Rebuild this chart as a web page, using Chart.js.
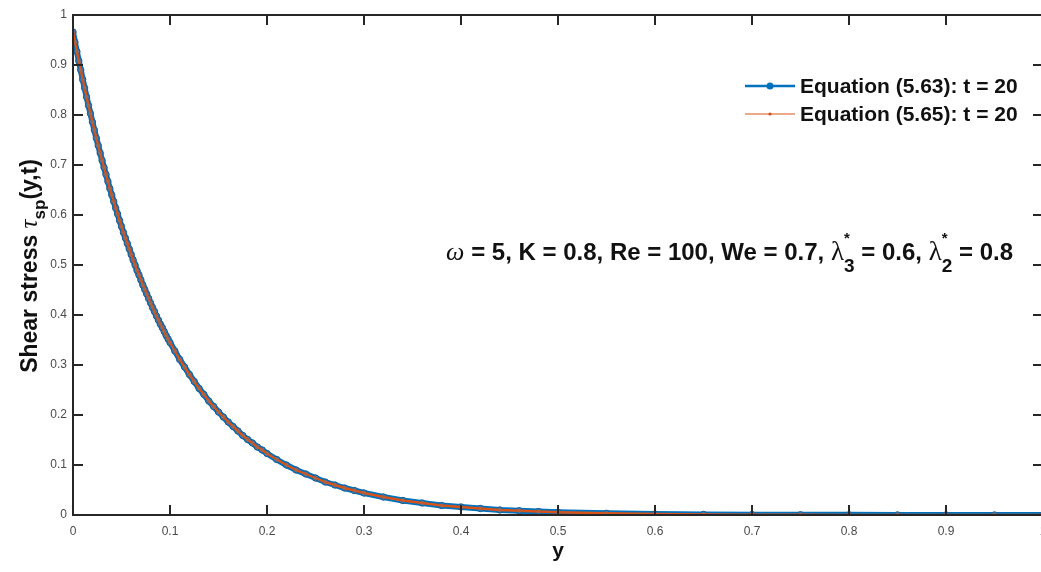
<!DOCTYPE html>
<html>
<head>
<meta charset="utf-8">
<script src="https://cdn.jsdelivr.net/npm/chart.js@4.4.1/dist/chart.umd.min.js"></script>
<style>
  html, body { margin: 0; padding: 0; background: #fff; overflow: hidden; }
  #wrap { position: relative; width: 1060px; height: 572px; }
</style>
</head>
<body>
<div id="wrap"><canvas id="stressChart"></canvas></div>
<script>
// positions across the channel (x axis, labelled "y")
const positions = [
  0, 0.002, 0.004, 0.006, 0.008, 0.010, 0.012, 0.014, 0.016, 0.018,
  0.020, 0.022, 0.024, 0.026, 0.028, 0.030, 0.032, 0.034, 0.036, 0.038,
  0.040, 0.042, 0.044, 0.046, 0.048, 0.050, 0.052, 0.054, 0.056, 0.058,
  0.060, 0.062, 0.064, 0.066, 0.068, 0.070, 0.072, 0.074, 0.076, 0.078,
  0.080, 0.082, 0.084, 0.086, 0.088, 0.090, 0.092, 0.094, 0.096, 0.098,
  0.100,
  0.105, 0.110, 0.115, 0.120, 0.125, 0.130, 0.135, 0.140, 0.145, 0.150,
  0.155, 0.160, 0.165, 0.170, 0.175, 0.180, 0.185, 0.190, 0.195, 0.200,
  0.21, 0.22, 0.23, 0.24, 0.25, 0.26, 0.27, 0.28, 0.29, 0.30,
  0.32, 0.34, 0.36, 0.38, 0.40, 0.42, 0.44, 0.46, 0.48, 0.50,
  0.55, 0.60, 0.65, 0.70, 0.75, 0.80, 0.85, 0.90, 0.95, 1.00
];

// Equation (5.63), t = 20
const tauEq563 = [
  0.966, 0.946, 0.927, 0.908, 0.890, 0.871, 0.854, 0.836, 0.819, 0.803,
  0.786, 0.770, 0.754, 0.739, 0.724, 0.709, 0.695, 0.681, 0.667, 0.653,
  0.640, 0.627, 0.614, 0.602, 0.589, 0.577, 0.565, 0.554, 0.543, 0.532,
  0.521, 0.510, 0.500, 0.489, 0.480, 0.470, 0.460, 0.451, 0.442, 0.433,
  0.424, 0.415, 0.407, 0.398, 0.390, 0.382, 0.375, 0.367, 0.359, 0.352,
  0.345,
  0.328, 0.311, 0.296, 0.281, 0.267, 0.253, 0.241, 0.228, 0.217, 0.206,
  0.196, 0.186, 0.177, 0.168, 0.159, 0.151, 0.144, 0.136, 0.130, 0.123,
  0.111, 0.100, 0.090, 0.082, 0.074, 0.066, 0.060, 0.054, 0.049, 0.044,
  0.036, 0.029, 0.024, 0.019, 0.016, 0.013, 0.010, 0.0085, 0.0069, 0.0056,
  0.0034, 0.0020, 0.0012, 0.0007, 0.0004, 0.0003, 0.0002, 0.0001, 0.0001, 0.0000
];

// Equation (5.65), t = 20
const tauEq565 = [
  0.966, 0.946, 0.927, 0.908, 0.890, 0.871, 0.854, 0.836, 0.819, 0.803,
  0.786, 0.770, 0.754, 0.739, 0.724, 0.709, 0.695, 0.681, 0.667, 0.653,
  0.640, 0.627, 0.614, 0.602, 0.589, 0.577, 0.565, 0.554, 0.543, 0.532,
  0.521, 0.510, 0.500, 0.489, 0.480, 0.470, 0.460, 0.451, 0.442, 0.433,
  0.424, 0.415, 0.407, 0.398, 0.390, 0.382, 0.375, 0.367, 0.359, 0.352,
  0.345,
  0.328, 0.311, 0.296, 0.281, 0.267, 0.253, 0.241, 0.228, 0.217, 0.206,
  0.196, 0.186, 0.177, 0.168, 0.159, 0.151, 0.144, 0.136, 0.130, 0.123,
  0.111, 0.100, 0.090, 0.082, 0.074, 0.066, 0.060, 0.054, 0.049, 0.044,
  0.036, 0.029, 0.024, 0.019, 0.016, 0.013, 0.010, 0.0085, 0.0069, 0.0056,
  0.0034, 0.0020, 0.0012, 0.0007, 0.0004, 0.0003, 0.0002, 0.0001, 0.0001, 0.0000
];

const tickValues = [0, 0.1, 0.2, 0.3, 0.4, 0.5, 0.6, 0.7, 0.8, 0.9, 1];
const legendLabels = ['Equation (5.63): t = 20', 'Equation (5.65): t = 20'];

const BLUE = '#0072BD';
const ORANGE = '#D95319';
const AXIS = '#262626';
const SANS = '"Liberation Sans", Arial, Helvetica, sans-serif';
const SERIF = '"Liberation Serif", "DejaVu Serif", serif';

// draws a run of text pieces with their own fonts; returns end x
function drawRuns(ctx, runs, x, y, measureOnly) {
  let cx = x;
  runs.forEach(r => {
    if (r.stack) {
      // subscript + superscript at same x
      let w = 0;
      r.stack.forEach(s => {
        ctx.font = s.font;
        if (!measureOnly) ctx.fillText(s.text, cx, y + s.dy);
        w = Math.max(w, ctx.measureText(s.text).width);
      });
      cx += w;
    } else {
      ctx.font = r.font;
      if (!measureOnly) ctx.fillText(r.text, cx, y + (r.dy || 0));
      cx += ctx.measureText(r.text).width;
    }
  });
  return cx;
}

const matlabFrame = {
  id: 'matlabFrame',
  afterDraw(chart) {
    const { ctx, chartArea: a, scales } = chart;
    ctx.save();
    // box
    ctx.strokeStyle = AXIS;
    ctx.lineWidth = 2;
    ctx.strokeRect(a.left, a.top, a.right - a.left, a.bottom - a.top);
    // inward ticks on all four sides
    ctx.beginPath();
    tickValues.forEach(v => {
      const px = scales.x.getPixelForValue(v);
      ctx.moveTo(px, a.bottom); ctx.lineTo(px, a.bottom - 10);
      ctx.moveTo(px, a.top); ctx.lineTo(px, a.top + 10);
      const py = scales.y.getPixelForValue(v);
      ctx.moveTo(a.left, py); ctx.lineTo(a.left + 10, py);
      ctx.moveTo(a.right, py); ctx.lineTo(a.right - 10, py);
    });
    ctx.stroke();

    ctx.fillStyle = '#111';
    ctx.textBaseline = 'alphabetic';

    // x axis title
    ctx.font = 'bold 21px ' + SANS;
    ctx.textAlign = 'center';
    ctx.fillText('y', (a.left + a.right) / 2, 557);
    ctx.textAlign = 'left';

    // y axis title (rotated)
    const yRuns = [
      { text: 'Shear stress ', font: 'bold 23px ' + SANS },
      { text: '\u03C4', font: 'italic 25px ' + SERIF },
      { text: 'sp', font: 'bold 17px ' + SANS, dy: 8 },
      { text: '(y,t)', font: 'bold 23px ' + SANS }
    ];
    ctx.save();
    ctx.translate(37, 266);
    ctx.rotate(-Math.PI / 2);
    const yw = drawRuns(ctx, yRuns, 0, 0, true);
    drawRuns(ctx, yRuns, -yw / 2, 0, false);
    ctx.restore();

    // legend
    const legendY = [86, 114];
    chart.data.datasets.forEach((ds, i) => {
      const y = legendY[i];
      ctx.strokeStyle = ds.borderColor;
      ctx.lineWidth = i === 0 ? 2.5 : 1.2;
      ctx.beginPath(); ctx.moveTo(745, y); ctx.lineTo(795, y); ctx.stroke();
      ctx.fillStyle = i === 0 ? BLUE : ORANGE;
      ctx.beginPath(); ctx.arc(770, y, i === 0 ? 3.5 : 1.6, 0, Math.PI * 2); ctx.fill();
      ctx.fillStyle = '#111';
      ctx.font = 'bold 21px ' + SANS;
      ctx.textBaseline = 'middle';
      ctx.fillText(legendLabels[i], 800, y + 1);
    });
    ctx.textBaseline = 'alphabetic';

    // parameter annotation
    const b = 'bold 24px ' + SANS;
    const annRuns = [
      { text: '\u03C9', font: 'italic 26px ' + SERIF },
      { text: ' = 5, K = 0.8, Re = 100, We = 0.7, ', font: b },
      { text: '\u03BB', font: '27px ' + SERIF },
      { stack: [{ text: '3', font: 'bold 19px ' + SANS, dy: 12 }, { text: '*', font: 'bold 15px ' + SANS, dy: -17 }] },
      { text: ' = 0.6, ', font: b },
      { text: '\u03BB', font: '27px ' + SERIF },
      { stack: [{ text: '2', font: 'bold 19px ' + SANS, dy: 12 }, { text: '*', font: 'bold 15px ' + SANS, dy: -17 }] },
      { text: ' = 0.8', font: b }
    ];
    const aw = drawRuns(ctx, annRuns, 0, 0, true);
    drawRuns(ctx, annRuns, 1013 - aw, 260, false);
    ctx.restore();
  }
};

const ctx = document.getElementById('stressChart');
new Chart(ctx, {
  type: 'line',
  data: {
    datasets: [
      {
        label: legendLabels[0],
        data: positions.map((p, i) => ({ x: p, y: tauEq563[i] })),
        borderColor: BLUE, borderWidth: 6,
        pointRadius: 3.2, pointBackgroundColor: '#2a7ab6', pointBorderColor: '#1b5f96', pointBorderWidth: 1,
        tension: 0, order: 2
      },
      {
        label: legendLabels[1],
        data: positions.map((p, i) => ({ x: p, y: tauEq565[i] })),
        borderColor: ORANGE, borderWidth: 2.4,
        pointRadius: 1.8, pointBackgroundColor: '#b0613f', pointBorderWidth: 0,
        tension: 0, order: 1
      }
    ]
  },
  options: {
    responsive: true, maintainAspectRatio: false, animation: false,
    layout: { padding: { top: 15, right: 17, left: 0, bottom: 0 } },
    plugins: { legend: { display: false }, tooltip: { enabled: false } },
    scales: {
      x: {
        type: 'linear', min: 0, max: 1,
        afterFit: s => { s.height = 57; },
        grid: { display: false, drawTicks: false },
        border: { display: false },
        ticks: { stepSize: 0.1, padding: 9, color: '#4a4a4a', font: { family: SANS, size: 12 }, maxRotation: 0,
                 callback: v => String(+v.toFixed(1)) }
      },
      y: {
        min: 0, max: 1,
        afterFit: s => { s.width = 73; },
        grid: { display: false, drawTicks: false },
        border: { display: false },
        ticks: { stepSize: 0.1, padding: 6, color: '#4a4a4a', font: { family: SANS, size: 12 },
                 callback: v => String(+v.toFixed(1)) }
      }
    }
  },
  plugins: [matlabFrame]
});
</script>
</body>
</html>
